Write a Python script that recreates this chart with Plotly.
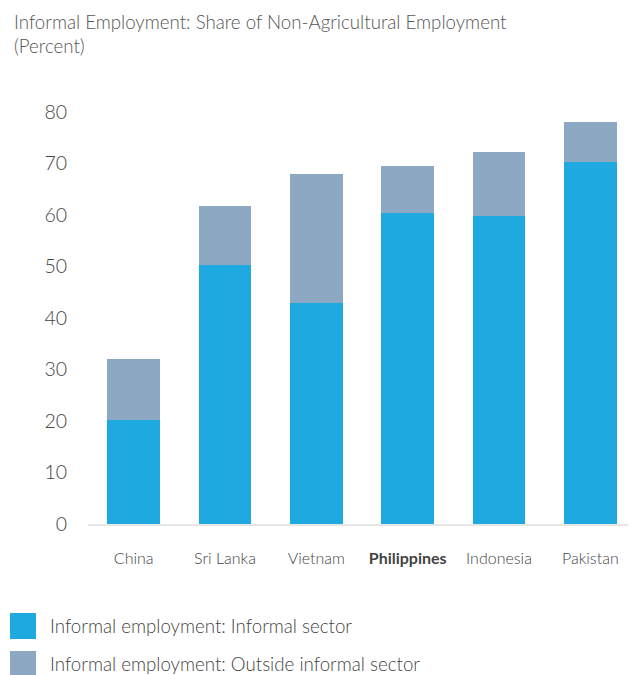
import plotly.graph_objects as go

countries = ["China", "Sri Lanka", "Vietnam", "Philippines", "Indonesia", "Pakistan"]
informal_sector = [20.2, 50.2, 43.0, 60.3, 59.9, 70.2]
outside_informal = [11.8, 11.5, 24.9, 9.3, 12.3, 7.8]
series_names = ["Informal employment: Informal sector", "Informal employment: Outside informal sector"]
series_colors = ["#1ea9e1", "#8ca8c2"]
y_ticks = [0, 10, 20, 30, 40, 50, 60, 70, 80]
title_lines = ["Informal Employment: Share of Non-Agricultural Employment", "(Percent)"]

# page has an 8px body margin, so the figure is sized to fit the 636x675 window
O = 8
W, H = 636 - O, 675 - O
# screen-pixel plot box
SX0, SX1, SY0, SY1 = 88, 636, 112, 524
L, R, T, B = SX0 - O, 636 - SX1, SY0 - O, 675 - SY1
PW, PH = W - L - R, H - T - B

def px(x):
    return (x - SX0) / PW

def py(y):
    return (SY1 - y) / PH

tick_text = ["<b>%s</b>" % c if c == "Philippines" else c for c in countries]

fig = go.Figure()
for vals, name, col in zip([informal_sector, outside_informal], series_names, series_colors):
    fig.add_trace(go.Bar(x=countries, y=vals, name=name, showlegend=False,
                         marker=dict(color=col, line=dict(width=0))))

annotations = []
for i, line in enumerate(title_lines):
    annotations.append(dict(text=line, xref="paper", yref="paper", x=px(12), y=py(22 + 24 * i),
                            xanchor="left", yanchor="middle", showarrow=False,
                            font=dict(family="Lato", size=18.7, color="#555555", weight=300)))
shapes = []
for i, (name, col) in enumerate(zip(series_names, series_colors)):
    cy = 626 + 38 * i
    shapes.append(dict(type="rect", xref="paper", yref="paper", x0=px(10), x1=px(36),
                       y0=py(cy + 13), y1=py(cy - 13), fillcolor=col, line=dict(width=0)))
    annotations.append(dict(text=name, xref="paper", yref="paper", x=px(48), y=py(cy),
                            xanchor="left", yanchor="middle", showarrow=False,
                            font=dict(family="Lato", size=18.7, color="#444444", weight=300)))

fig.update_layout(
    width=W, height=H,
    barmode="stack", bargap=0.42,
    paper_bgcolor="white", plot_bgcolor="white",
    margin=dict(l=L, r=R, t=T, b=B, autoexpand=False),
    font=dict(family="Lato", color="#444444"),
    xaxis=dict(type="category", tickmode="array", tickvals=countries, ticktext=tick_text,
               tickfont=dict(size=16, color="#444444", weight=300), showline=True,
               linecolor="#e6e6e6", linewidth=2, ticks="", ticklabelstandoff=19, showgrid=False),
    yaxis=dict(range=[0, 80], tickvals=y_ticks, showgrid=False, zeroline=False,
               tickfont=dict(size=19.5, color="#444444", weight=300), ticklabelstandoff=20),
    showlegend=False,
    annotations=annotations,
    shapes=shapes,
)

fig.write_html("out.html")
